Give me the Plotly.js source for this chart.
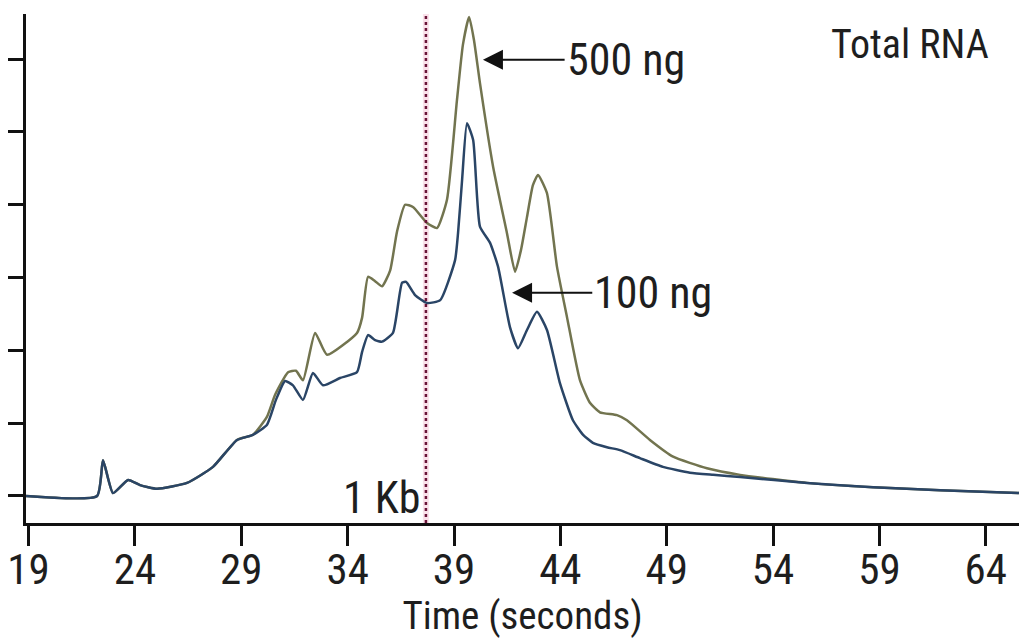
<!DOCTYPE html>
<html>
<head>
<meta charset="utf-8">
<script src="https://cdn.plot.ly/plotly-3.0.1.min.js"></script>
<style>html,body{margin:0;padding:0;background:#fff;}#chart{width:1019px;height:639px;}</style>
</head>
<body>
<div id="chart"></div>
<script>
// Total RNA electropherogram, 500 ng and 100 ng loads
const time500 = [18.88, 22.22, 22.5, 22.97, 23.68, 24.24, 25.04, 26.45, 27.67, 28.8, 29.55, 30.21, 30.59, 31.2, 31.57, 31.9, 32.47, 33.03, 34.44, 34.68, 34.96, 35.29, 35.62, 36.0, 36.32, 36.7, 37.07, 37.73, 38.2, 38.67, 39.14, 39.42, 39.71, 39.94, 40.22, 40.84, 41.49, 41.87, 42.15, 42.43, 42.71, 42.95, 43.37, 43.84, 44.31, 44.92, 45.39, 45.86, 46.66, 47.13, 48.21, 49.3, 50.89, 52.45, 55.59, 58.7, 61.85, 65.56];
const signal500 = [0, 0, 0.49, 0.04, 0.22, 0.15, 0.1, 0.18, 0.4, 0.77, 0.84, 1.09, 1.39, 1.7, 1.72, 1.59, 2.24, 1.94, 2.24, 2.45, 3.01, 2.95, 2.88, 3.1, 3.63, 4.0, 3.97, 3.75, 3.68, 4.07, 5.44, 6.2, 6.58, 6.26, 5.67, 4.52, 3.61, 3.08, 3.38, 3.83, 4.27, 4.41, 4.16, 3.15, 2.46, 1.59, 1.28, 1.15, 1.11, 1.04, 0.77, 0.54, 0.38, 0.29, 0.18, 0.12, 0.08, 0.04];

const time100 = [18.88, 22.22, 22.5, 22.97, 23.68, 24.24, 25.04, 26.45, 27.67, 28.8, 29.55, 30.21, 30.63, 31.06, 31.43, 31.9, 32.37, 32.84, 33.64, 34.44, 34.68, 34.96, 35.29, 35.62, 36.13, 36.56, 36.75, 37.17, 37.73, 38.35, 39.05, 39.19, 39.38, 39.61, 39.9, 40.22, 40.69, 41.07, 41.63, 42.01, 42.43, 42.9, 43.37, 43.98, 44.59, 45.07, 45.53, 46.19, 46.8, 47.74, 48.82, 50.09, 51.18, 52.45, 55.59, 58.7, 61.85, 65.56];
const signal100 = [0, 0, 0.49, 0.04, 0.22, 0.15, 0.1, 0.18, 0.4, 0.77, 0.84, 0.98, 1.32, 1.58, 1.52, 1.32, 1.69, 1.52, 1.62, 1.7, 1.98, 2.21, 2.14, 2.12, 2.24, 2.93, 2.94, 2.76, 2.65, 2.69, 3.24, 3.61, 4.34, 5.12, 4.89, 3.7, 3.48, 3.15, 2.32, 2.03, 2.28, 2.53, 2.28, 1.55, 1.04, 0.84, 0.73, 0.67, 0.63, 0.52, 0.4, 0.32, 0.29, 0.26, 0.18, 0.12, 0.08, 0.04];

const xTickVals = [19, 24, 29, 34, 39, 44, 49, 54, 59, 64];
const yTickVals = [0, 1, 2, 3, 4, 5, 6];
const markerKb = 37.68;

const FONT = '"Roboto Condensed", "Liberation Sans Narrow", "DejaVu Sans Condensed", sans-serif';
const TXT = '#1e1e1e';

const traces = [
  {x: time500, y: signal500, type: 'scatter', mode: 'lines', name: '500 ng',
   line: {color: '#72744f', width: 2.5, shape: 'spline', smoothing: 0.5}},
  {x: time100, y: signal100, type: 'scatter', mode: 'lines', name: '100 ng',
   line: {color: '#2a4566', width: 2.5, shape: 'spline', smoothing: 0.5}}
];

const layout = {
  width: 1019, height: 639,
  margin: {l: 26, r: 0, t: 14, b: 116, pad: 0},
  paper_bgcolor: '#ffffff', plot_bgcolor: '#ffffff',
  showlegend: false,
  font: {family: FONT, color: TXT},
  xaxis: {
    range: [18.88, 65.56], showgrid: false, zeroline: false,
    showline: true, linecolor: '#111', linewidth: 3,
    ticks: 'outside', ticklen: 20, tickwidth: 3, tickcolor: '#111',
    tickvals: xTickVals, ticktext: xTickVals.map(String),
    tickfont: {size: 43, family: FONT, color: TXT},
    ticklabelstandoff: -14,
    title: {text: 'Time (seconds)', font: {size: 39, family: FONT, color: TXT}, standoff: 14},
    automargin: false
  },
  yaxis: {
    range: [-0.371, 6.62], showgrid: false, zeroline: false,
    showline: true, linecolor: '#111', linewidth: 3,
    ticks: 'outside', ticklen: 15, tickwidth: 3, tickcolor: '#111',
    tickvals: yTickVals, showticklabels: false, automargin: false
  },
  shapes: [
    {type: 'line', xref: 'x', yref: 'paper', x0: markerKb, x1: markerKb, y0: 0, y1: 1,
     line: {color: 'rgba(240,170,195,0.35)', width: 6}, layer: 'below'},
    {type: 'line', xref: 'x', yref: 'paper', x0: markerKb, x1: markerKb, y0: 0, y1: 1,
     line: {color: '#6a1438', width: 2.5, dash: 'dot'}}
  ],
  annotations: [
    {x: 40.36, y: 5.99, ax: 44.2, ay: 5.99, axref: 'x', ayref: 'y', xref: 'x', yref: 'y',
     text: '500 ng', showarrow: true, arrowhead: 2, arrowsize: 2, arrowwidth: 2, arrowcolor: '#111',
     standoff: 0, startstandoff: 0, xanchor: 'left', yanchor: 'middle',
     font: {size: 44, family: FONT, color: TXT}},
    {x: 41.73, y: 2.79, ax: 45.5, ay: 2.79, axref: 'x', ayref: 'y', xref: 'x', yref: 'y',
     text: '100 ng', showarrow: true, arrowhead: 2, arrowsize: 2, arrowwidth: 2, arrowcolor: '#111',
     standoff: 0, startstandoff: 0, xanchor: 'left', yanchor: 'middle',
     font: {size: 44, family: FONT, color: TXT}},
    {x: 37.55, y: -0.03, xref: 'x', yref: 'y', text: '1 Kb', showarrow: false,
     xanchor: 'right', yanchor: 'middle', font: {size: 44, family: FONT, color: TXT}},
    {x: 60.44, y: 6.2, xref: 'x', yref: 'y', text: 'Total RNA', showarrow: false,
     xanchor: 'center', yanchor: 'middle', font: {size: 40, family: FONT, color: TXT}}
  ]
};

Plotly.newPlot('chart', traces, layout, {displayModeBar: false, staticPlot: true});
</script>
</body>
</html>
